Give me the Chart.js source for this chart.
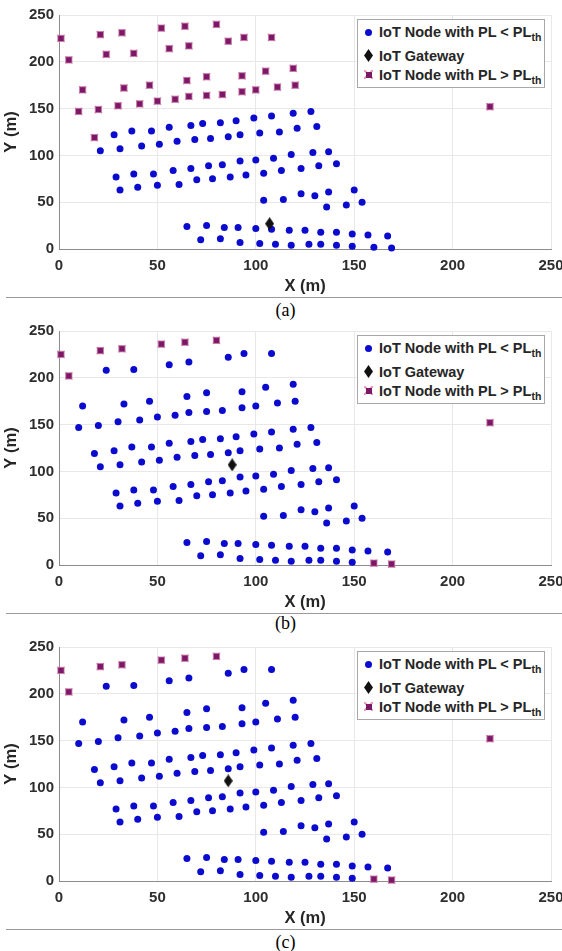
<!DOCTYPE html>
<html>
<head>
<meta charset="utf-8">
<script src="https://cdn.jsdelivr.net/npm/chart.js@4.4.1/dist/chart.umd.min.js"></script>
<style>
  body { margin: 0; background: #fff; }
  #page { position: relative; width: 562px; height: 951px; overflow: hidden; background: #fff; }
  .panel { position: absolute; left: 0; width: 562px; height: 316px; }
  .panel canvas { position: absolute; left: 0; top: 0; }
  .rule { position: absolute; left: 6px; width: 556px; top: 297px; height: 1px; background: #9a9a9a; }
  .caption { position: absolute; left: 0; width: 571px; text-align: center; line-height: 20px;
    font: 18px "Liberation Serif", "Times New Roman", serif; color: #000; }
  .legend { position: absolute; left: 357px; top: 19px; width: 188px; height: 69px; box-sizing: border-box;
    border: 1px solid #a8a8a8; background: #fff; color: #262626;
    font: bold 14.5px "Liberation Sans", Arial, sans-serif; }
  .legend .txt { position: absolute; left: 21px; line-height: 16px; white-space: nowrap; }
  .legend sub { font-size: 10.5px; vertical-align: -4px; line-height: 0; }
  .legend .mk { position: absolute; }
  .mk.dot { width: 7px; height: 7px; border-radius: 50%; background: #0b0bd0; left: 7px; }
  .mk.gw { width: 9px; height: 13px; background: #111; left: 6px;
    clip-path: polygon(50% 0, 100% 50%, 50% 100%, 0 50%); }
  .mk.far { width: 9px; height: 9px; left: 6px; background:
    linear-gradient(45deg, transparent 43%, #ef9cc0 43%, #ef9cc0 57%, transparent 57%),
    linear-gradient(-45deg, transparent 43%, #ef9cc0 43%, #ef9cc0 57%, transparent 57%); }
  .mk.far::after { content: ""; position: absolute; left: 1.5px; top: 1.5px; width: 6px; height: 6px;
    background: #7d1767; }
</style>
</head>
<body>
<div id="page"></div>
<script>
// all IoT node positions (same deployment in the three cases)
const nodeX = [1, 5, 12, 10, 20, 21, 24, 32, 33, 30, 38, 41, 46, 50, 52, 56, 59, 64, 66, 65,
  66, 75, 75, 80, 83, 86, 94, 93, 93, 100, 105, 108, 111, 119, 120, 18, 219,
  28, 37, 47, 56, 67, 73, 82, 90, 99, 108, 119, 128,
  21, 31, 42, 51, 60, 69, 77, 86, 92, 102, 112, 121, 131,
  29, 38, 48, 58, 67, 76, 83, 92, 100, 109, 118, 129, 137,
  31, 40, 50, 61, 70, 78, 87, 95, 104, 113, 123, 132, 141,
  104, 114, 123, 130, 137, 136, 150, 146, 154,
  65, 75, 84, 91, 100, 108, 117, 125, 133, 141, 149, 157, 167,
  72, 82, 92, 102, 110, 118, 127, 133, 141, 149, 160, 169];
const nodeY = [225, 202, 170, 147, 149, 229, 208, 231, 172, 153, 209, 155, 175, 158, 236, 214, 160, 238, 217, 180,
  163, 184, 164, 240, 165, 222, 226, 185, 168, 170, 190, 226, 173, 193, 175, 119, 152,
  122, 126, 126, 130, 132, 134, 135, 137, 140, 142, 145, 147,
  105, 107, 110, 112, 115, 117, 118, 120, 122, 124, 125, 129, 131,
  77, 80, 80, 84, 86, 89, 90, 94, 95, 97, 101, 103, 104,
  63, 66, 68, 69, 74, 75, 77, 79, 81, 84, 86, 89, 91,
  52, 53, 59, 57, 61, 45, 63, 47, 50,
  24, 25, 23, 23, 22, 21, 20, 20, 18, 18, 16, 15, 14,
  10, 11, 7, 6, 5, 4, 5, 5, 4, 3, 2, 1];

// gateway position per case (a), (b), (c)
const gatewayX = [107, 88, 86];
const gatewayY = [27, 107, 107];

// nodes with PL > PL_th in each case
const farXa = [1, 5, 12, 10, 20, 21, 24, 32, 33, 30, 38, 41, 46, 50, 52, 56, 59, 64, 66, 65,
  66, 75, 75, 80, 83, 86, 94, 93, 93, 100, 105, 108, 111, 119, 120, 18, 219];
const farYa = [225, 202, 170, 147, 149, 229, 208, 231, 172, 153, 209, 155, 175, 158, 236, 214, 160, 238, 217, 180,
  163, 184, 164, 240, 165, 222, 226, 185, 168, 170, 190, 226, 173, 193, 175, 119, 152];
const farXb = [1, 5, 21, 32, 52, 64, 80, 160, 169, 219];
const farYb = [225, 202, 229, 231, 236, 238, 240, 2, 1, 152];
const farXc = [1, 5, 21, 32, 52, 64, 80, 160, 169, 219];
const farYc = [225, 202, 229, 231, 236, 238, 240, 2, 1, 152];

const xTicks = [0, 50, 100, 150, 200, 250];
const yTicks = [0, 50, 100, 150, 200, 250];
const captions = ["(a)", "(b)", "(c)"];

const panels = [
  { top: 0, capTop: 300, farX: farXa, farY: farYa },
  { top: 316, capTop: 297, farX: farXb, farY: farYb },
  { top: 632, capTop: 300, farX: farXc, farY: farYc },
];

const fontFamily = '"Liberation Sans", Arial, sans-serif';

function diamond(w, h) {
  const c = document.createElement("canvas");
  c.width = w;
  c.height = h;
  const g = c.getContext("2d");
  g.fillStyle = "#111";
  g.beginPath();
  g.moveTo(w / 2, 0);
  g.lineTo(w, h / 2);
  g.lineTo(w / 2, h);
  g.lineTo(0, h / 2);
  g.closePath();
  g.fill();
  return c;
}
const gwStyle = diamond(9, 13);

function axis(ticks, title, isX) {
  return {
    type: "linear",
    min: 0,
    max: 250,
    afterBuildTicks: (s) => {
      s.ticks = ticks.map((v) => ({ value: v }));
    },
    afterFit: (s) => {
      if (isX) {
        s.height = 47;
        s.paddingLeft = 0;
        s.paddingRight = 0;
      } else {
        s.width = 59;
      }
    },
    grid: { color: "#e8e8e8", drawTicks: false },
    border: { color: "#8c8c8c", width: 1 },
    ticks: {
      padding: isX ? 8 : 5,
      color: "#2e2e2e",
      font: { family: fontFamily, size: 15, weight: "bold" },
    },
    title: {
      display: true,
      text: title,
      color: "#262626",
      font: { family: fontFamily, size: 16.5, weight: "bold" },
      padding: isX ? { top: 0, bottom: 0 } : { top: 2, bottom: 0 },
    },
  };
}

const page = document.getElementById("page");

panels.forEach((p, k) => {
  const div = document.createElement("div");
  div.className = "panel";
  div.style.top = p.top + "px";
  page.appendChild(div);

  const canvas = document.createElement("canvas");
  canvas.width = 562;
  canvas.height = 296;
  div.appendChild(canvas);

  const rule = document.createElement("div");
  rule.className = "rule";
  div.appendChild(rule);

  const cap = document.createElement("div");
  cap.className = "caption";
  cap.style.top = p.capTop + "px";
  cap.textContent = captions[k];
  div.appendChild(cap);

  const legend = document.createElement("div");
  legend.className = "legend";
  legend.innerHTML =
    '<span class="mk dot" style="top:9px"></span>' +
    '<span class="txt" style="top:4px">IoT Node with PL &lt; PL<sub>th</sub></span>' +
    '<span class="mk gw" style="top:29px"></span>' +
    '<span class="txt" style="top:28px">IoT Gateway</span>' +
    '<span class="mk far" style="top:50px"></span>' +
    '<span class="txt" style="top:47px">IoT Node with PL &gt; PL<sub>th</sub></span>';
  div.appendChild(legend);

  const farSet = new Set(p.farX.map((x, i) => x + "," + p.farY[i]));
  const near = [];
  nodeX.forEach((x, i) => {
    if (!farSet.has(x + "," + nodeY[i])) near.push({ x: x, y: nodeY[i] });
  });
  const far = p.farX.map((x, i) => ({ x: x, y: p.farY[i] }));

  new Chart(canvas, {
    type: "scatter",
    data: {
      datasets: [
        {
          data: near,
          order: 4,
          pointStyle: "circle",
          pointRadius: 3.5,
          backgroundColor: "#0b0bd0",
          borderWidth: 0,
          clip: false,
        },
        {
          data: far,
          order: 3,
          pointStyle: "crossRot",
          pointRadius: 5.2,
          borderColor: "#ef9cc0",
          borderWidth: 1.3,
          clip: false,
        },
        {
          data: far,
          order: 2,
          pointStyle: "rect",
          pointRadius: 4.4,
          backgroundColor: "#7d1767",
          borderColor: "#c77aa6",
          borderWidth: 0.8,
          clip: false,
        },
        {
          data: [{ x: gatewayX[k], y: gatewayY[k] }],
          order: 1,
          pointStyle: gwStyle,
          clip: false,
        },
      ],
    },
    options: {
      responsive: false,
      animation: false,
      events: [],
      layout: { padding: { top: 15, right: 11, bottom: 0, left: 0 } },
      plugins: { legend: { display: false }, tooltip: { enabled: false } },
      scales: {
        x: axis(xTicks, "X (m)", true),
        y: axis(yTicks, "Y (m)", false),
      },
    },
  });
});
</script>
</body>
</html>
